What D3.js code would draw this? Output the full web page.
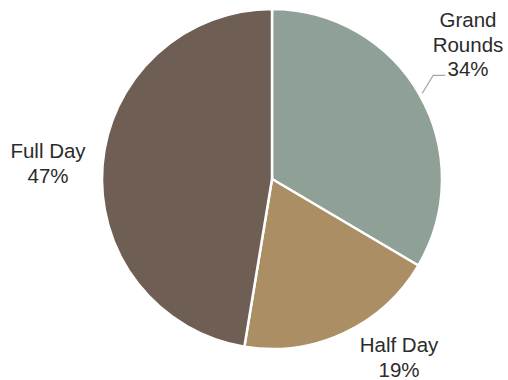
<!DOCTYPE html>
<html>
<head>
<meta charset="utf-8">
<script src="https://cdn.jsdelivr.net/npm/d3@7"></script>
<style>
  body { margin: 0; background: #fff; }
  svg { display: block; }
</style>
</head>
<body>
<div id="chart"></div>
<script>
// Data (slice sizes, labels show rounded %)
const categories = ["Grand Rounds", "Half Day", "Full Day"];
const values = [33.5, 19.1, 47.4];
const colors = ["#8fa197", "#ab8e64", "#6f5e53"];

const width = 508, height = 380;
const cx = 272, cy = 179, radius = 170;

const svg = d3.select("#chart")
    .append("svg")
    .attr("width", width)
    .attr("height", height);

const g = svg.append("g")
    .attr("transform", `translate(${cx},${cy})`);

const data = categories.map((c, i) => ({ name: c, value: values[i], color: colors[i] }));

const pie = d3.pie().sort(null).value(d => d.value);
const arc = d3.arc().innerRadius(0).outerRadius(radius);
const arcs = pie(data);

g.selectAll("path.slice")
    .data(arcs)
    .enter()
    .append("path")
    .attr("class", "slice")
    .attr("d", arc)
    .attr("fill", d => d.data.color)
    .attr("stroke", "#fff")
    .attr("stroke-width", 2.5)
    .attr("stroke-linejoin", "round");

// label placement (offsets relative to pie centre)
const labelPos = {
    "Grand Rounds": { x: 196, y: -152 },
    "Half Day": { x: 127, y: 173 },
    "Full Day": { x: -224, y: -21 }
};
const lineH = 24.5;

arcs.forEach(d => {
    const p = labelPos[d.data.name];
    const words = d.data.name === "Grand Rounds" ? ["Grand", "Rounds"] : [d.data.name];
    const lines = words.concat([Math.round(d.data.value) + "%"]);
    const t = g.append("text")
        .attr("text-anchor", "middle")
        .style("font-family", "'Liberation Sans', Arial, sans-serif")
        .style("font-size", "20.5px")
        .attr("fill", "#2b2b2b");
    lines.forEach((l, i) => {
        t.append("tspan")
            .attr("x", p.x)
            .attr("y", p.y + i * lineH)
            .text(l);
    });
});

// leader line for Grand Rounds
const gr = arcs[0];
const mid = (gr.startAngle + gr.endAngle) / 2;
const sx = Math.sin(mid) * (radius + 3), sy = -Math.cos(mid) * (radius + 3);
g.append("polyline")
    .attr("points", [[sx, sy], [sx + 11, sy - 18], [sx + 23, sy - 18]].map(p => p.join(",")).join(" "))
    .attr("fill", "none")
    .attr("stroke", "#a3a3b3")
    .attr("stroke-width", 1.3);
</script>
</body>
</html>
